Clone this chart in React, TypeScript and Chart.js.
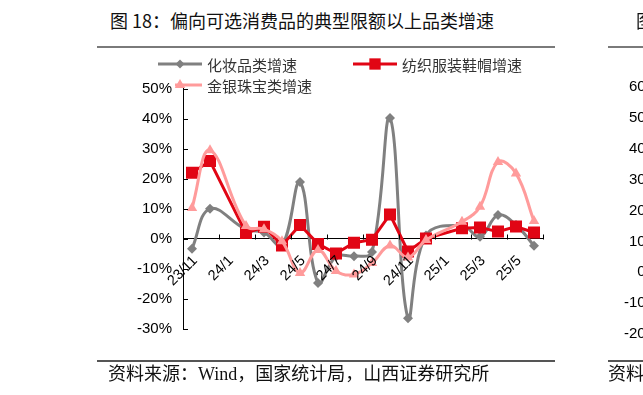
import React, { useEffect, useRef } from 'react';
import { Chart, registerables } from 'chart.js';

Chart.register(...registerables);

// ---------- data ----------
const categories = ['23/11', '23/12', '24/1', '24/2', '24/3', '24/4', '24/5', '24/6', '24/7', '24/8', '24/9', '24/10', '24/11', '24/12', '25/1', '25/2', '25/3', '25/4', '25/5', '25/6'];
const cosmetics = [-3.4, 9.9, null, 3.0, 2.0, -2.4, 18.8, -14.8, -6.0, -5.9, -4.5, 40.2, -26.6, 1.0, null, 4.3, 0.6, 7.8, 4.5, -2.4];
const apparel = [21.9, 25.8, null, 1.8, 3.9, -2.3, 4.5, -1.8, -5.0, -1.4, -0.4, 8.0, -4.3, 0.0, null, 3.4, 3.7, 2.3, 4.0, 2.0];
const jewelry = [10.2, 29.4, null, 4.2, 3.1, -0.9, -11.5, -3.8, -10.8, -12.0, -8.2, -2.3, -6.3, -0.5, null, 5.6, 10.6, 25.5, 21.7, 5.8];
const seriesNames = ['化妆品类增速', '纺织服装鞋帽增速', '金银珠宝类增速'];
const yMin = -30;
const yMax = 50;
const yStep = 10;
const rightYLabels = ['60', '50', '40', '30', '20', '10', '0', '-10', '-20'];

const GRAY = '#808080';
const RED = '#E10514';
const PINK = '#FF9B9B';

function drawMarker(ctx: CanvasRenderingContext2D, style: string, x: number, y: number, r: number, color: string) {
  ctx.save();
  ctx.fillStyle = color;
  ctx.beginPath();
  if (style === 'rect') {
    const s = r * Math.SQRT1_2;
    ctx.rect(x - s, y - s, 2 * s, 2 * s);
  } else if (style === 'rectRot') {
    ctx.moveTo(x, y - r);
    ctx.lineTo(x + r, y);
    ctx.lineTo(x, y + r);
    ctx.lineTo(x - r, y);
    ctx.closePath();
  } else {
    const h = r * 1.5;
    const w = r * Math.sqrt(3) / 2;
    ctx.moveTo(x, y - r);
    ctx.lineTo(x + w, y + h - r);
    ctx.lineTo(x - w, y + h - r);
    ctx.closePath();
  }
  ctx.fill();
  ctx.restore();
}

const decorPlugin = {
  id: 'decor',
  afterDraw(chart: any) {
    const ctx: CanvasRenderingContext2D = chart.ctx;
    const xs = chart.scales.x;
    const ys = chart.scales.y;
    const area = chart.chartArea;
    ctx.save();
    ctx.strokeStyle = '#000';
    ctx.lineWidth = 1;
    // y ticks pointing inward
    for (let v = yMin; v <= yMax; v += yStep) {
      const py = Math.round(ys.getPixelForValue(v)) + 0.5;
      ctx.beginPath();
      ctx.moveTo(area.left, py);
      ctx.lineTo(area.left + 5, py);
      ctx.stroke();
    }
    // x ticks every two categories, pointing up
    const yZero = ys.getPixelForValue(0);
    const y0 = Math.round(yZero) + 0.5;
    for (let k = 2; k <= categories.length; k += 2) {
      const px = Math.round(xs.getPixelForValue(k - 0.5)) + 0.5;
      ctx.beginPath();
      ctx.moveTo(px, y0);
      ctx.lineTo(px, y0 - 5);
      ctx.stroke();
    }
    // rotated category labels under the zero line
    ctx.fillStyle = '#000';
    ctx.font = '14.5px "Liberation Sans", Arial, sans-serif';
    ctx.textAlign = 'right';
    ctx.textBaseline = 'middle';
    for (let i = 0; i < categories.length; i += 2) {
      const px = xs.getPixelForValue(i);
      ctx.save();
      ctx.translate(px + 3, yZero + 20);
      ctx.rotate(-Math.PI / 4);
      ctx.fillText(categories[i], 0, 0);
      ctx.restore();
    }
    // legend
    const items = [
      { label: seriesNames[0], color: GRAY, style: 'rectRot', r: 4.5, x: 158, x0: 158, y: 64 },
      { label: seriesNames[1], color: RED, style: 'rect', r: 8, x: 353, x0: 353, y: 64 },
      { label: seriesNames[2], color: PINK, style: 'triangle', r: 6, x: 158, x0: 175, y: 85 },
    ];
    ctx.font = '15px "Noto Sans CJK SC", sans-serif';
    ctx.textBaseline = 'middle';
    ctx.textAlign = 'left';
    for (const it of items) {
      ctx.strokeStyle = it.color;
      ctx.lineWidth = 3;
      ctx.beginPath();
      ctx.moveTo(it.x0, it.y);
      ctx.lineTo(it.x + 44, it.y);
      ctx.stroke();
      drawMarker(ctx, it.style, it.x + 22, it.y, it.r, it.color);
      ctx.fillStyle = '#333';
      ctx.fillText(it.label, it.x + 49, it.y + 1);
    }
    ctx.restore();
  },
};

export default function App() {
  const ref = useRef<HTMLCanvasElement | null>(null);
  useEffect(() => {
    if (!ref.current) return;
    const chart = new Chart(ref.current, {
      type: 'line',
      data: {
        labels: categories,
        datasets: [
          {
            label: seriesNames[0], data: cosmetics, borderColor: GRAY, backgroundColor: GRAY, borderWidth: 3,
            pointStyle: 'rectRot', pointRadius: 5, pointBorderWidth: 0, tension: 0.4, spanGaps: true, order: 3,
          },
          {
            label: seriesNames[1], data: apparel, borderColor: RED, backgroundColor: RED, borderWidth: 3,
            pointStyle: 'rect', pointRadius: 8.5, pointBorderWidth: 0, tension: 0, spanGaps: true, order: 2,
          },
          {
            label: seriesNames[2], data: jewelry, borderColor: PINK, backgroundColor: PINK, borderWidth: 3,
            pointStyle: 'triangle', pointRadius: 6, pointBorderWidth: 0, tension: 0.4, spanGaps: true, order: 1,
          },
        ],
      } as any,
      options: {
        animation: false,
        responsive: false,
        devicePixelRatio: 1,
        layout: { padding: { left: 0, right: 100, top: 88.5, bottom: 66.5 } },
        plugins: { legend: { display: false }, tooltip: { enabled: false }, title: { display: false } },
        scales: {
          x: {
            type: 'category',
            offset: true,
            position: { y: 0 } as any,
            grid: { display: true, drawOnChartArea: false, drawTicks: false },
            border: { display: true, color: '#000', width: 1 },
            ticks: { display: false, autoSkip: false },
          },
          y: {
            min: yMin,
            max: yMax,
            afterFit: (s: any) => { s.width = 183; },
            grid: { display: true, drawOnChartArea: false, drawTicks: false },
            border: { display: true, color: '#000', width: 1 },
            ticks: {
              stepSize: yStep,
              padding: 11,
              color: '#000',
              font: { family: '"Liberation Sans", Arial, sans-serif', size: 15 },
              callback: (v: any) => `${v}%`,
            },
          },
        },
      } as any,
      plugins: [decorPlugin],
    });
    return () => chart.destroy();
  }, []);

  const abs = (s: React.CSSProperties): React.CSSProperties => ({ position: 'absolute', whiteSpace: 'nowrap', ...s });
  return (
    <div style={{ position: 'fixed', left: 0, top: 0, width: 643, height: 395, overflow: 'hidden', background: '#fff' }}>
      <div style={abs({ left: 110, top: 9, fontSize: 18, lineHeight: '22px', fontFamily: '"Noto Sans CJK SC", sans-serif', color: '#111' })}>
        图 18：偏向可选消费品的典型限额以上品类增速
      </div>
      <div style={abs({ left: 97, top: 46, width: 458, height: 2, background: '#7a7a7a' })} />
      <canvas ref={ref} width={643} height={395} style={{ position: 'absolute', left: 0, top: 0, width: 643, height: 395 }} />
      <div style={abs({ left: 97, top: 360, width: 458, height: 2, background: '#555' })} />
      <div style={abs({ left: 108, top: 363, fontSize: 18, lineHeight: '22px', fontFamily: '"Liberation Serif", "Noto Sans CJK SC", serif', color: '#111' })}>
        资料来源：Wind，国家统计局，山西证券研究所
      </div>
      {/* neighbouring chart, cut off at the right edge */}
      <div style={abs({ left: 636, top: 9, fontSize: 18, lineHeight: '22px', fontFamily: '"Noto Sans CJK SC", sans-serif', color: '#111' })}>图 19</div>
      <div style={abs({ left: 608, top: 46, width: 60, height: 2, background: '#7a7a7a' })} />
      <div style={abs({ left: 608, top: 360, width: 60, height: 2, background: '#555' })} />
      <div style={abs({ left: 608, top: 363, fontSize: 18, lineHeight: '22px', fontFamily: '"Liberation Serif", "Noto Sans CJK SC", serif', color: '#111' })}>资料来源</div>
      {rightYLabels.map((t, i) => (
        <div key={t} style={abs({ right: -16, top: 77 + i * 30.9, width: 40, textAlign: 'right', fontSize: 15, lineHeight: '18px', fontFamily: '"Liberation Sans", Arial, sans-serif', color: '#000' })}>
          {t}%
        </div>
      ))}
    </div>
  );
}
